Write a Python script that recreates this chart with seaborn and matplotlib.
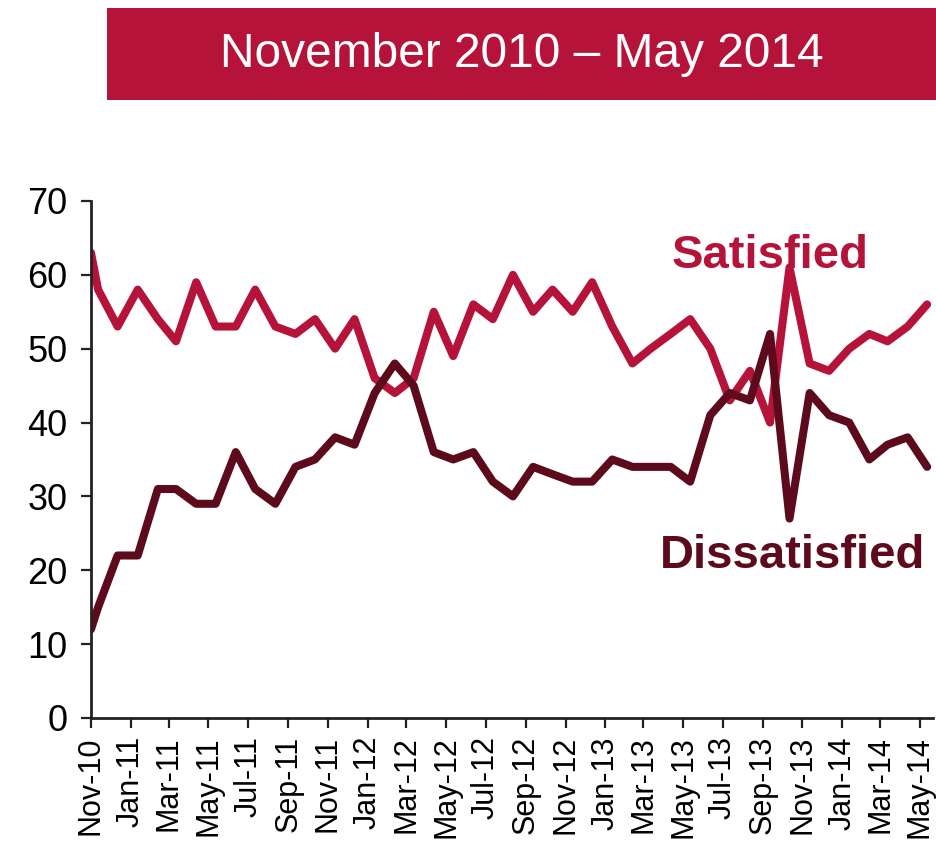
import pandas as pd
import matplotlib.pyplot as plt
import matplotlib.dates as mdates
import seaborn as sns
from matplotlib.patches import Rectangle

# survey values, Nov-10 .. May-14 (first reading sits on the Nov-10 tick)
satisfied = [63, 58, 53, 58, 54, 51, 59, 53, 53, 58,
             53, 52, 54, 50, 54, 46, 44, 46, 55, 49,
             56, 54, 60, 55, 58, 55, 59, 53, 48, 50,
             52, 54, 50, 43, 47, 40, 61, 48, 47, 50,
             52, 51, 53, 56]
dissatisfied = [12, 15, 22, 22, 31, 31, 29, 29, 36, 31,
                29, 34, 35, 38, 37, 44, 48, 45, 36, 35,
                36, 32, 30, 34, 33, 32, 32, 35, 34, 34,
                34, 32, 41, 44, 43, 52, 27, 44, 41, 40,
                35, 37, 38, 34]
survey_months = pd.date_range("2010-11-01", "2014-05-01", freq="MS")
survey_dates = [pd.Timestamp("2010-11-01")] + list(survey_months + pd.Timedelta(days=11))

title = "November 2010 \u2013 May 2014"
red = "#B5133A"
maroon = "#5C0A1C"

df = pd.DataFrame({"date": survey_dates, "Satisfied": satisfied, "Dissatisfied": dissatisfied})
long_df = df.melt(id_vars="date", var_name="group", value_name="pct")

sns.set_style("white")
plt.rcParams["font.family"] = ["Liberation Sans", "DejaVu Sans"]

fig = plt.figure(figsize=(9.37, 8.42), dpi=100)
ax = fig.add_axes([0.0971, 0.1473, 0.8986, 0.614])

sns.lineplot(data=long_df, x="date", y="pct", hue="group",
             palette={"Satisfied": red, "Dissatisfied": maroon},
             linewidth=5.8, legend=False, ax=ax)
for ln in ax.lines:
    ln.set_solid_capstyle("round")
    ln.set_solid_joinstyle("round")

ax.set_ylim(0, 70)
ax.set_yticks(range(0, 71, 10))
ax.set_xlim(pd.Timestamp("2010-11-01"), pd.Timestamp("2014-05-21"))
ax.xaxis.set_major_locator(mdates.MonthLocator(bymonth=[1, 3, 5, 7, 9, 11]))
ax.xaxis.set_major_formatter(mdates.DateFormatter("%b-%y"))
ax.set_xlabel("")
ax.set_ylabel("")

sns.despine(ax=ax)
for side in ["left", "bottom"]:
    ax.spines[side].set_linewidth(2)
    ax.spines[side].set_color("#222222")
ax.tick_params(axis="y", length=7, width=1.6, color="#222222", labelcolor="black",
               labelsize=26, pad=10, left=True)
ax.tick_params(axis="x", length=7, width=1.6, color="#222222", labelcolor="black",
               labelsize=22, pad=6, rotation=90, bottom=True)

ax.text(0.690, 0.870, "Satisfied", transform=ax.transAxes, color=red,
        fontsize=34, fontweight="bold", ha="left", va="baseline")
ax.text(0.676, 0.290, "Dissatisfied", transform=ax.transAxes, color=maroon,
        fontsize=34, fontweight="bold", ha="left", va="baseline")

# header banner
fig.patches.append(Rectangle((0.1142, 0.8812), 0.8858, 0.1093, transform=fig.transFigure,
                             facecolor=red, edgecolor="none"))
fig.text(0.557, 0.9347, title, color="white", fontsize=34.5, ha="center", va="center")

fig.savefig("out.png", dpi=100)
